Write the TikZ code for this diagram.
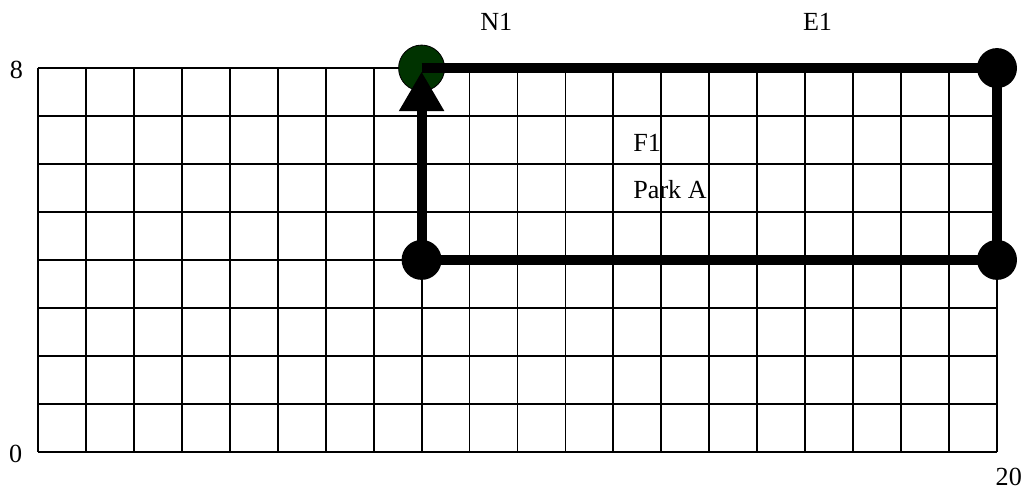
\documentclass[tikz,border=0pt]{standalone}
\usepackage{fontspec}
\setmainfont{Liberation Serif}
\usetikzlibrary{arrows.meta}
\definecolor{parkgreen}{RGB}{0,51,0}
\begin{document}
\begin{tikzpicture}[x=1cm,y=1cm,
  gridline/.style={line width=1.1pt,black},
  edgeline/.style={line width=6pt,black},
  blackpt/.style={circle,fill=black,minimum size=0.834cm,inner sep=0pt},
  greenpt/.style={circle,fill=parkgreen,draw=black,line width=0.5pt,minimum size=0.96cm,inner sep=0pt},
  lbl/.style={inner sep=0pt,font=\fontsize{15.5}{18}\selectfont}
]
\useasboundingbox (-0.7925,-0.778) rectangle (20.605,9.420);
\draw[gridline] (0,0) grid (20,8);
% points
\node[greenpt] (n1) at (8,8) {};
\node[blackpt] (ne) at (20,8) {};
\node[blackpt] (se) at (20,4) {};
\node[blackpt] (sw) at (8,4) {};
% edges
\draw[edgeline] (n1.center) -- (ne.center);
\draw[edgeline] (ne.center) -- (se.center);
\draw[edgeline] (se.center) -- (sw.center);
\draw[edgeline,-{Triangle[length=0.83cm,width=0.89cm]}] (sw.center) -- ([yshift=-0.07cm]n1.center);
% labels
\node[lbl] (l8) at (-0.452,7.96) {8};
\node[lbl] (l0) at (-0.465,-0.048) {0};
\node[lbl] (l20) at (20.246,-0.528) {20};
\node[lbl,anchor=base west] (tn1) at (9.218,8.774) {N1};
\node[lbl,anchor=base west] (te1) at (15.947,8.774) {E1};
\node[lbl,anchor=base west] (tf1) at (12.41,6.257) {F1};
\node[lbl,anchor=base west] (tpark) at (12.41,5.27) {Park A};
\end{tikzpicture}
\end{document}
